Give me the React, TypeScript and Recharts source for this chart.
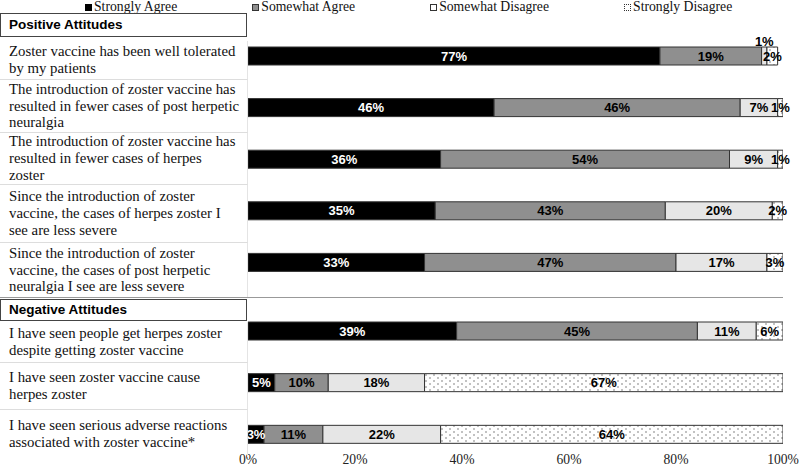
import React from 'react';
import { BarChart, Bar, XAxis, YAxis, LabelList } from 'recharts';

// statements, split into the lines used in the figure
const positiveItems = [
  'Zoster vaccine has been well tolerated\nby my patients',
  'The introduction of zoster vaccine has\nresulted in fewer cases of post herpetic\nneuralgia',
  'The introduction of zoster vaccine has\nresulted in fewer cases of herpes\nzoster',
  'Since the introduction of zoster\nvaccine, the cases of herpes zoster I\nsee are less severe',
  'Since the introduction of zoster\nvaccine, the cases of post herpetic\nneuralgia I see are less severe',
];
const negativeItems = [
  'I have seen people get herpes zoster\ndespite getting zoster vaccine',
  'I have seen zoster vaccine cause\nherpes zoster',
  'I have seen serious adverse reactions\nassociated with zoster vaccine*',
];

const positiveStronglyAgree = [77, 46, 36, 35, 33];
const positiveSomewhatAgree = [19, 46, 54, 43, 47];
const positiveSomewhatDisagree = [1, 7, 9, 20, 17];
const positiveStronglyDisagree = [2, 1, 1, 2, 3];

const negativeStronglyAgree = [39, 5, 3];
const negativeSomewhatAgree = [45, 10, 11];
const negativeSomewhatDisagree = [11, 18, 22];
const negativeStronglyDisagree = [6, 67, 64];

const xTicks = [0, 20, 40, 60, 80, 100];

const seriesNames = ['Strongly Agree', 'Somewhat Agree', 'Somewhat Disagree', 'Strongly Disagree'];

const buildRows = (items: string[], sa: number[], wa: number[], wd: number[], sd: number[]) =>
  items.map((item, i) => ({ item, sa: sa[i], wa: wa[i], wd: wd[i], sd: sd[i] }));

const positiveData = buildRows(positiveItems, positiveStronglyAgree, positiveSomewhatAgree, positiveSomewhatDisagree, positiveStronglyDisagree);
const negativeData = buildRows(negativeItems, negativeStronglyAgree, negativeSomewhatAgree, negativeSomewhatDisagree, negativeStronglyDisagree);

const SERIF = '"Liberation Serif", "Times New Roman", serif';
const SANS = '"Liberation Sans", Arial, sans-serif';
const BAR_STROKE = '#333';

const renderLabel = (color: string, liftSmall = false) => (props: any) => {
  const { x, y, width, height, value } = props;
  if (value == null) return null;
  const lift = liftSmall && value < 2;
  return (
    <text
      x={x + width / 2}
      y={lift ? y - 6 : y + height / 2}
      textAnchor="middle"
      dominantBaseline="central"
      fill={color}
      fontFamily={SANS}
      fontWeight="bold"
      fontSize={13}
    >
      {value}%
    </text>
  );
};

const DotPattern = ({ id }: { id: string }) => (
  <defs>
    <pattern id={id} width="8" height="6" patternUnits="userSpaceOnUse">
      <rect width="8" height="6" fill="#fff" />
      <circle cx="2" cy="2" r="0.75" fill="#666" />
      <circle cx="6" cy="5" r="0.75" fill="#666" />
    </pattern>
  </defs>
);

const bars = (patternId: string, liftRowOne: boolean) => [
  <Bar key="sa" dataKey="sa" name={seriesNames[0]} stackId="a" fill="#000" stroke={BAR_STROKE} barSize={18} isAnimationActive={false}>
    <LabelList dataKey="sa" content={renderLabel('#fff')} />
  </Bar>,
  <Bar key="wa" dataKey="wa" name={seriesNames[1]} stackId="a" fill="#8f8f8f" stroke={BAR_STROKE} barSize={18} isAnimationActive={false}>
    <LabelList dataKey="wa" content={renderLabel('#000')} />
  </Bar>,
  <Bar key="wd" dataKey="wd" name={seriesNames[2]} stackId="a" fill="#e6e6e6" stroke={BAR_STROKE} barSize={18} isAnimationActive={false}>
    <LabelList dataKey="wd" content={renderLabel('#000', liftRowOne)} />
  </Bar>,
  <Bar key="sd" dataKey="sd" name={seriesNames[3]} stackId="a" fill={`url(#${patternId})`} stroke={BAR_STROKE} barSize={18} isAnimationActive={false}>
    <LabelList dataKey="sd" content={renderLabel('#000')} />
  </Bar>,
];

const AxisTick = (props: any) => {
  const { x, y, payload } = props;
  return (
    <text x={x} y={y} dy={4} textAnchor="middle" fill="#222" fontFamily={SERIF} fontSize={13.6}>
      {payload.value}%
    </text>
  );
};

const legendSwatches = [
  { background: '#000', border: '1px solid #000' },
  { background: '#8f8f8f', border: '1px solid #333' },
  { background: '#fff', border: '1px solid #333' },
  { background: '#fff', border: '1px dotted #333' },
];

const headerStyle = (top: number, height: number): React.CSSProperties => ({
  position: 'absolute',
  left: 0,
  top,
  width: 237,
  height,
  border: '1.5px solid #444',
  fontFamily: SANS,
  fontWeight: 'bold',
  fontSize: 13.5,
  lineHeight: `${height}px`,
  paddingLeft: 8,
  boxSizing: 'content-box',
  background: '#fff',
});

const ItemColumn = ({ items, edges }: { items: string[]; edges: number[] }) => (
  <>
    {items.map((item, i) => (
      <div
        key={item}
        style={{
          position: 'absolute',
          left: 0,
          top: edges[i],
          width: 238,
          height: edges[i + 1] - edges[i] - 1,
          paddingLeft: 9,
          borderBottom: i < items.length - 1 ? '1px solid #ddd' : 'none',
          borderRight: '1px solid #e4e4e4',
          display: 'flex',
          alignItems: 'center',
          whiteSpace: 'pre-line',
          fontFamily: SERIF,
          fontSize: 14.8,
          lineHeight: '16.8px',
          color: '#111',
        }}
      >
        {item}
      </div>
    ))}
  </>
);

export default function App() {
  return (
    <div style={{ position: 'absolute', left: 0, top: 0, width: 800, height: 467, background: '#fff', overflow: 'hidden' }}>
      {/* legend */}
      <div style={{ position: 'absolute', top: 0, left: 85, display: 'flex', gap: 75, fontFamily: SERIF, fontSize: 13.7, lineHeight: '14px', color: '#111' }}>
        {seriesNames.map((name, i) => (
          <div key={name} style={{ display: 'flex', alignItems: 'center', gap: 2 }}>
            <span style={{ display: 'inline-block', width: 7, height: 7, boxSizing: 'border-box', flexShrink: 0, ...legendSwatches[i] }} />
            <span>{name}</span>
          </div>
        ))}
      </div>

      <div style={{ position: 'absolute', left: 0, top: 0 }}>
        <BarChart width={800} height={300} data={positiveData} layout="vertical" margin={{ top: 30, right: 17, bottom: 12, left: 248 }}>
          <DotPattern id="dotsPos" />
          <XAxis type="number" domain={[0, 100]} hide allowDataOverflow />
          <YAxis type="category" dataKey="item" hide />
          {bars('dotsPos', true)}
        </BarChart>
      </div>

      <div style={{ position: 'absolute', left: 0, top: 295 }}>
        <BarChart width={800} height={172} data={negativeData} layout="vertical" margin={{ top: 10, right: 17, bottom: 0, left: 248 }}>
          <DotPattern id="dotsNeg" />
          <XAxis
            type="number"
            domain={[0, 100]}
            ticks={xTicks}
            allowDataOverflow
            axisLine={false}
            tickLine={false}
            tickSize={0}
            tickMargin={0}
            height={7}
            tick={<AxisTick />}
          />
          <YAxis type="category" dataKey="item" hide />
          {bars('dotsNeg', false)}
        </BarChart>
      </div>

      {/* statement column */}
      <div style={headerStyle(13, 22)}>Positive Attitudes</div>
      <ItemColumn items={positiveItems} edges={[41, 80, 133, 185, 243, 298]} />
      <div style={{ position: 'absolute', left: 0, top: 297, width: 783, height: 1, background: '#999' }} />
      <div style={headerStyle(299, 20)}>Negative Attitudes</div>
      <ItemColumn items={negativeItems} edges={[322, 363, 410, 458]} />
    </div>
  );
}
